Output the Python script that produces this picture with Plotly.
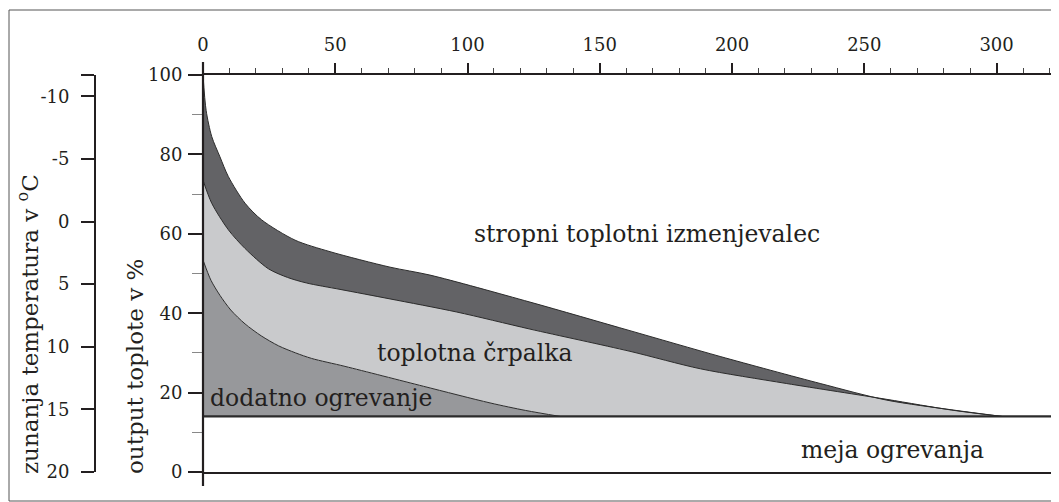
import plotly.graph_objects as go

# Vrednosti odcitane s slike (x = dnevi, y = output toplote v %)
x_axis_max = 323.6
heating_limit = 14.0

limit_x = [0, 323.6]
limit_y = [heating_limit, heating_limit]

# dodatno ogrevanje (spodnja krivulja)
extra_x = [0, 3, 6.4, 10.5, 15.9, 22, 28.5, 35, 41.1, 53.7, 83.3, 108.5, 122, 135]
extra_y = [53.4, 48.3, 44.5, 40.8, 37.3, 34.3, 31.8, 30.0, 28.6, 26.6, 21.6, 17.4, 15.5, 14.0]

# toplotna crpalka (srednja krivulja)
pump_x = [0, 3.3, 9.6, 15.9, 24.7, 32, 39.2, 51.8, 70.7, 95.9, 123.6, 161.4, 188, 220.5, 258.5, 283, 302]
pump_y = [73.5, 67.7, 61.0, 56.3, 51.2, 49.0, 47.6, 46.0, 43.6, 40.3, 36.0, 30.4, 26.0, 22.3, 18.3, 15.6, 14.0]

# stropni toplotni izmenjevalec (zgornja krivulja)
ceiling_x = [0, 1.2, 3.3, 6.4, 9.6, 15.9, 22.2, 34.8, 48, 70.7, 85.8, 123.6, 161.4, 195.5, 233.3, 258.5, 283.7, 302]
ceiling_y = [100, 91.0, 84.5, 79.4, 74.4, 67.7, 63.5, 58.4, 55.5, 51.6, 49.6, 42.8, 35.6, 29.1, 22.3, 18.1, 15.6, 14.0]

x_ticks = [0, 50, 100, 150, 200, 250, 300]
y_ticks = [0, 20, 40, 60, 80, 100]
temp_ticks = [-11.7, -10, -5, 0, 5, 10, 15, 20]
temp_labels = ["", "-10", "-5", "0", "5", "10", "15", "20"]

DARK = "#636366"
LIGHT = "#c9cacc"
MID = "#97989b"
INK = "#231f20"
FONT = "DejaVu Serif"

# stran ima 8px robu, zato je slika manjsa za 8px in vse pozicije zamaknjene
OFF = 8
W, H = 1059 - OFF, 502 - OFF
PLOT_L, PLOT_T, PLOT_B = 203 - OFF, 75 - OFF, 472 - OFF


def px_x(px):
    return (px - OFF) / W


def px_y(px):
    return (PLOT_B - (px - OFF)) / (PLOT_B - PLOT_T)


fig = go.Figure()

# osnova (meja ogrevanja) - nevidna, za polnjenje
fig.add_trace(go.Scatter(x=limit_x, y=limit_y, mode="lines",
                         line=dict(width=0), showlegend=False, hoverinfo="skip"))
curve_line = dict(color="#2b2b2b", width=1, shape="spline", smoothing=0.8)
fig.add_trace(go.Scatter(x=extra_x, y=extra_y, mode="lines", fill="tonexty",
                         fillcolor=MID, line=curve_line, showlegend=False))
fig.add_trace(go.Scatter(x=pump_x, y=pump_y, mode="lines", fill="tonexty",
                         fillcolor=LIGHT, line=curve_line, showlegend=False))
fig.add_trace(go.Scatter(x=ceiling_x, y=ceiling_y, mode="lines", fill="tonexty",
                         fillcolor=DARK, line=curve_line, showlegend=False))
# crta meje ogrevanja cez vse
fig.add_trace(go.Scatter(x=limit_x, y=limit_y, mode="lines",
                         line=dict(color="#2b2b2b", width=2.2), showlegend=False))

fig.update_layout(
    width=W, height=H,
    paper_bgcolor="white", plot_bgcolor="white",
    margin=dict(l=0, r=0, t=PLOT_T, b=H - PLOT_B, pad=0, autoexpand=False),
    font=dict(family=FONT, color=INK, size=18),
    showlegend=False,
)

tick_font = dict(size=18, family=FONT, color=INK)
fig.update_xaxes(
    domain=[PLOT_L / W, 1], range=[0, x_axis_max], side="top",
    tickvals=x_ticks, ticks="outside", ticklen=10, tickwidth=2, tickcolor=INK,
    minor=dict(dtick=10, ticks="outside", ticklen=5, tickwidth=1, tickcolor="#444"),
    showline=True, linewidth=2, linecolor=INK, mirror=True,
    showgrid=False, zeroline=False, ticklabelstandoff=5, tickfont=tick_font,
)
fig.update_yaxes(
    range=[0, 100], tickvals=y_ticks, ticks="outside", ticklen=14, tickwidth=2, tickcolor=INK,
    minor=dict(dtick=10, ticks="outside", ticklen=10, tickwidth=1, tickcolor="#888"),
    showline=False, showgrid=False, zeroline=False, ticklabelstandoff=2, tickfont=tick_font,
)

# temperaturna os
fig.update_layout(yaxis2=dict(
    overlaying="y", anchor="free", position=px_x(95), side="left",
    range=[20, -11.7], tickvals=temp_ticks, ticktext=temp_labels,
    ticks="outside", ticklen=13, tickwidth=2, tickcolor=INK,
    showline=True, linewidth=2, linecolor=INK, showgrid=False, zeroline=False,
    ticklabelstandoff=8, tickfont=tick_font,
))
fig.add_trace(go.Scatter(x=[None], y=[None], yaxis="y2", showlegend=False))

# y os podaljsana nad in pod risbo
fig.add_shape(type="line", xref="paper", yref="paper",
              x0=PLOT_L / W, x1=PLOT_L / W, y0=px_y(486), y1=px_y(62),
              line=dict(color=INK, width=2.2), layer="above")
# okvir
fig.add_shape(type="rect", xref="paper", yref="paper",
              x0=px_x(9), x1=1.02, y0=px_y(501), y1=px_y(10),
              line=dict(color="#555", width=1), layer="below")

labels = [
    ("stropni toplotni izmenjevalec", 167.9, 60.0),
    ("toplotna črpalka", 102.8, 30.0),
    ("dodatno ogrevanje", 44.6, 18.6),
    ("meja ogrevanja", 260.7, 5.6),
]
for text, lx, ly in labels:
    fig.add_annotation(x=lx, y=ly, xref="x", yref="y", text=text, showarrow=False,
                       xanchor="center", yanchor="middle",
                       font=dict(size=23.5, family=FONT, color=INK))

fig.add_annotation(x=px_x(28), y=px_y(324), xref="paper", yref="paper", textangle=-90,
                   xanchor="center", yanchor="middle",
                   text="zunanja temperatura v <sup>o</sup>C", showarrow=False,
                   font=dict(size=23, family=FONT, color=INK))
fig.add_annotation(x=px_x(135), y=px_y(367), xref="paper", yref="paper", textangle=-90,
                   xanchor="center", yanchor="middle",
                   text="output toplote v %", showarrow=False,
                   font=dict(size=23, family=FONT, color=INK))

fig.write_html("out.html")
